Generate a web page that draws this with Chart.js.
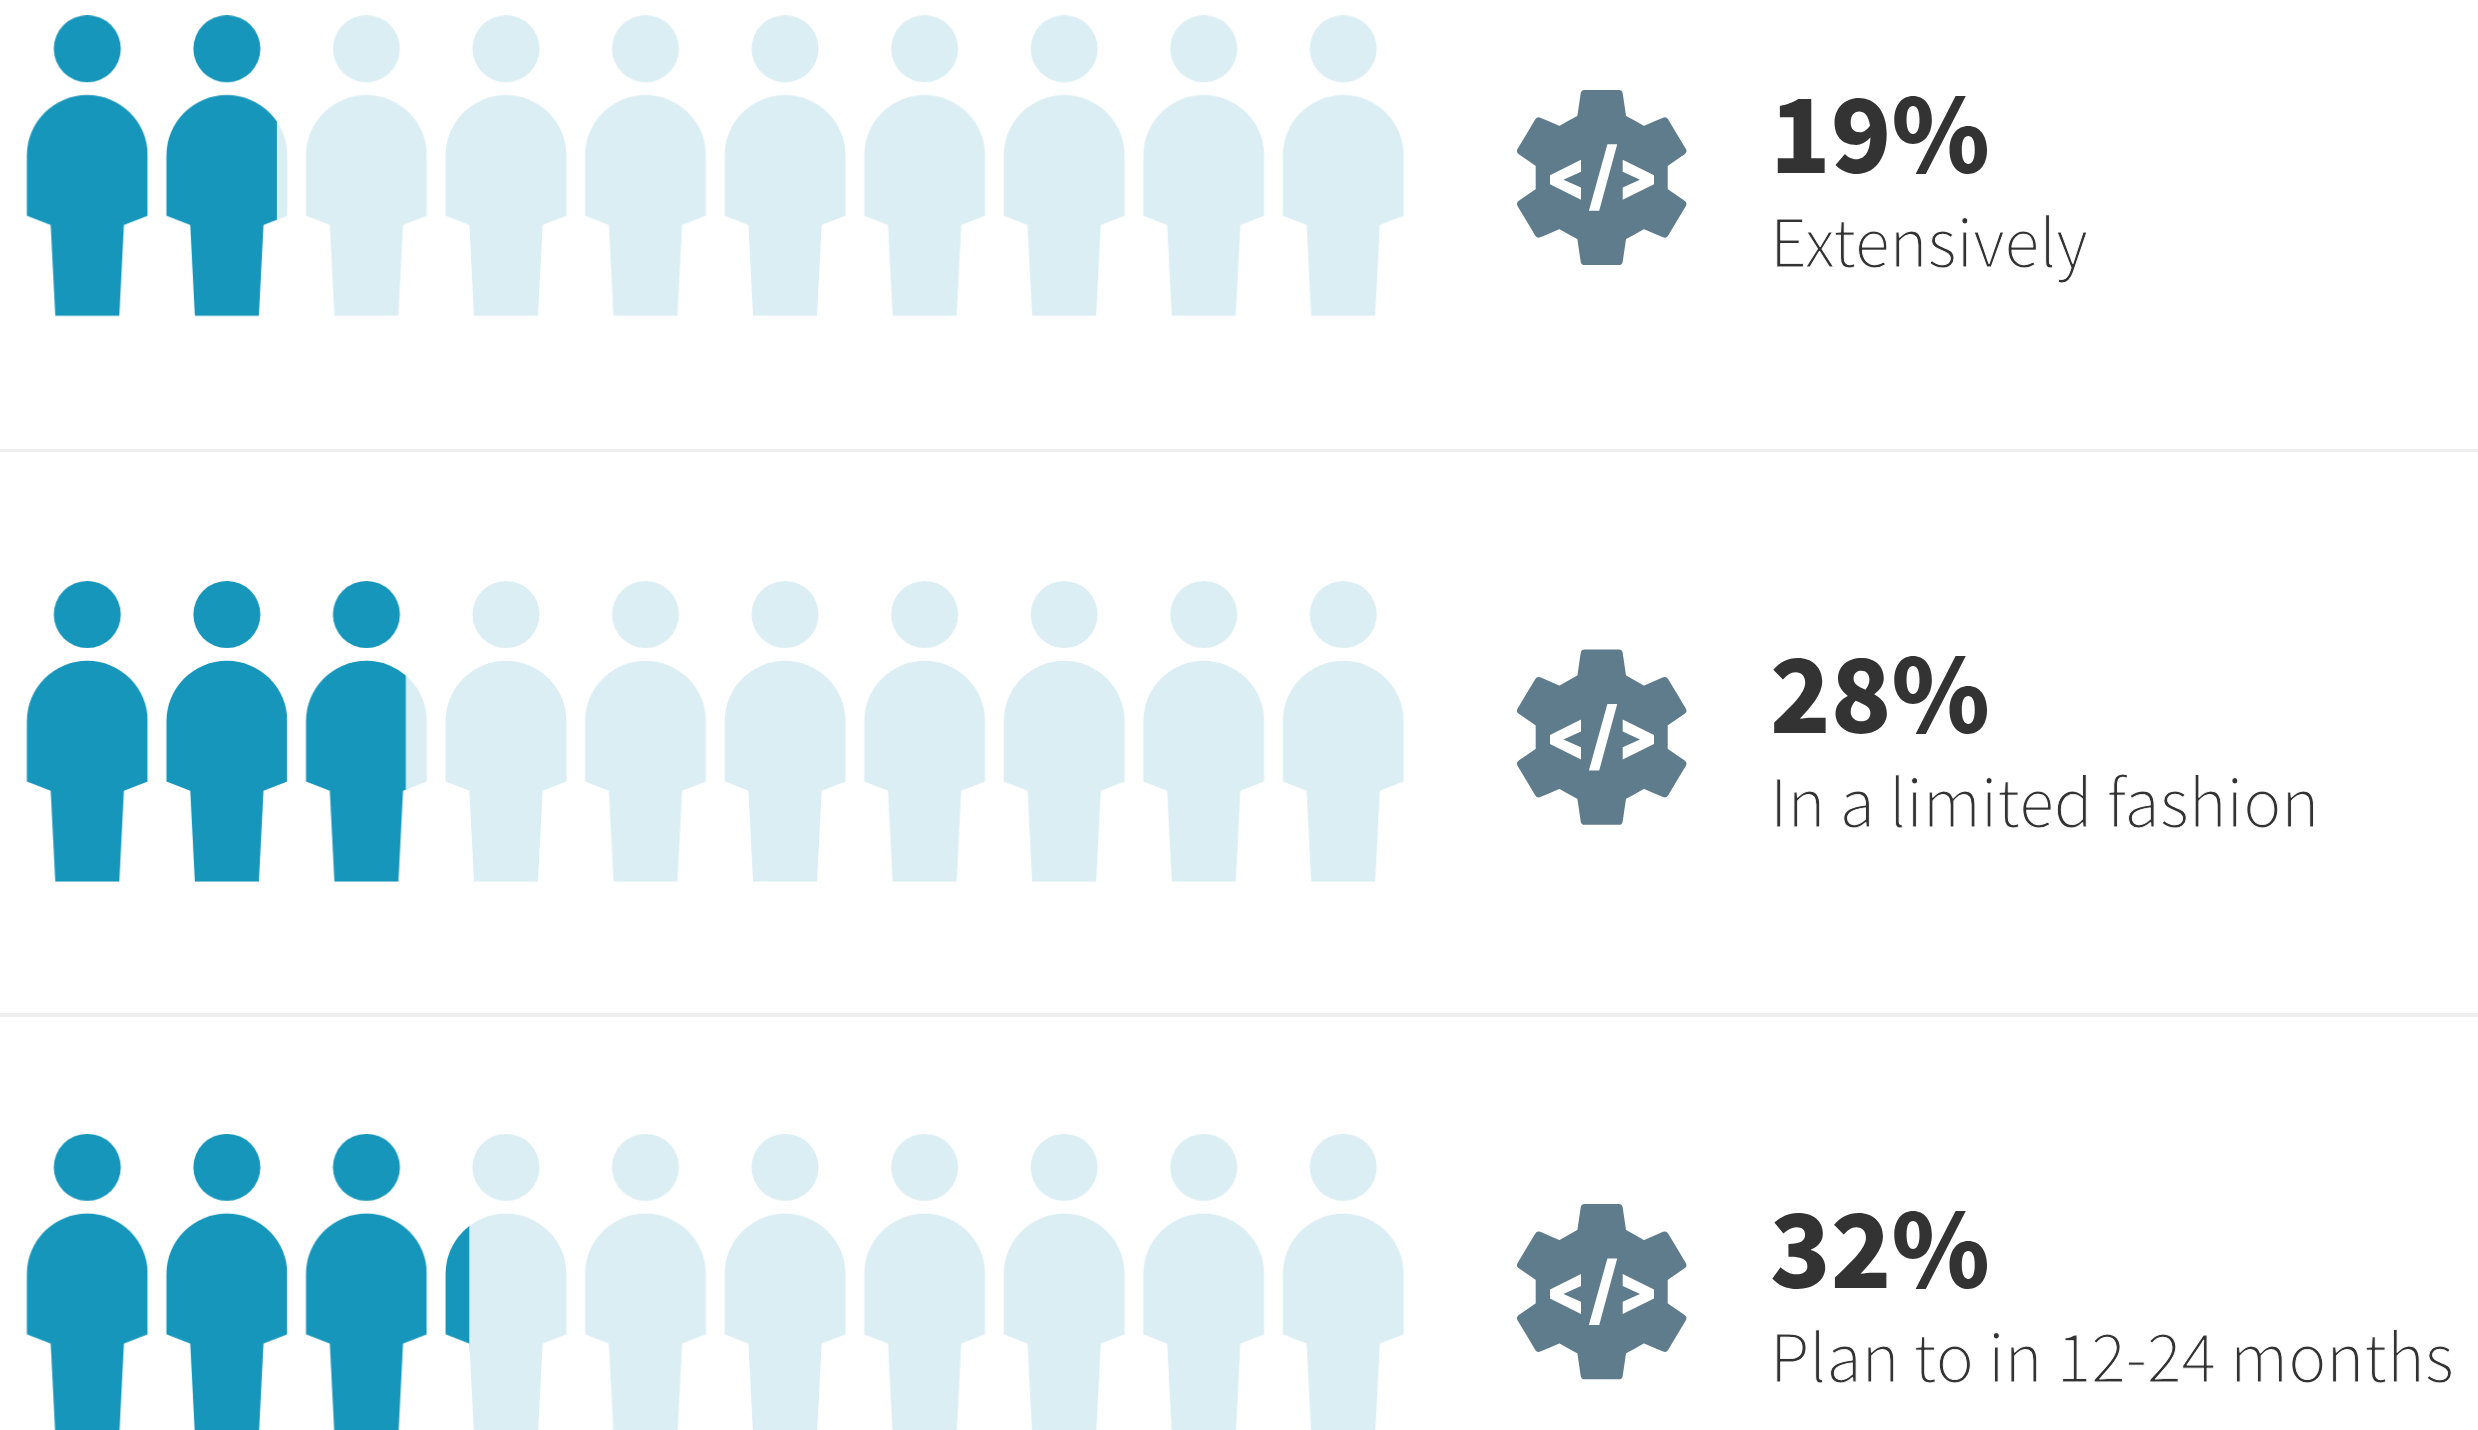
<!DOCTYPE html>
<html><head><meta charset="utf-8">
<style>
html,body{margin:0;padding:0;background:#fff;width:2478px;height:1430px;overflow:hidden}
.row{position:absolute;left:0;width:2478px}
canvas{display:block}
</style>
<script src="https://cdn.jsdelivr.net/npm/chart.js@4"></script>
</head><body>
<div class="row" style="top:0;height:452px"><canvas id="r0" width="2478" height="452"></canvas></div>
<div class="row" style="top:452px;height:565px"><canvas id="r1" width="2478" height="565"></canvas></div>
<div class="row" style="top:1017px;height:413px"><canvas id="r2" width="2478" height="413"></canvas></div>
<script>
// ---- data ----
const percentLabels = ['19%', '28%', '32%'];
const categories = ['Extensively', 'In a limited fashion', 'Plan to in 12-24 months'];
const filledPeople = [1.914, 2.826, 3.196];   // people coloured in, out of ten
const peoplePerRow = [1, 2, 3, 4, 5, 6, 7, 8, 9, 10];

// ---- styles ----
const DARK = '#1696BB', PALE = '#DBEEF4', GEAR = '#5F7C8C', INK = '#333333', RULE = '#EEEEEE';
const W = 2478;
const STEP = 139.55, X0 = 87.3;
const xMin = 1 - X0 / STEP, xMax = 1 + (W - X0) / STEP;

function personPath(c) {
  c.beginPath(); c.arc(65, 33.5, 33.5, 0, 2 * Math.PI);
  c.moveTo(4.6, 140.2);
  c.arc(65, 140.2, 60.4, Math.PI, 0);
  c.lineTo(125.4, 200.5); c.lineTo(101.6, 209.8); c.lineTo(97, 300.5); c.lineTo(33, 300.5);
  c.lineTo(28.4, 209.8); c.lineTo(4.6, 200.5); c.closePath();
}
function glyph(frac) {
  const cv = document.createElement('canvas'); cv.width = 130; cv.height = 302;
  const c = cv.getContext('2d');
  personPath(c); c.fillStyle = PALE; c.fill();
  if (frac > 0) {
    c.save(); c.beginPath(); c.rect(0, 0, 4.6 + 120.8 * frac, 302); c.clip();
    personPath(c); c.fillStyle = DARK; c.fill(); c.restore();
  }
  return cv;
}
function gearPoly(c, cx, cy) {
  const pts = [[-20.5,-87.6],[-24.3,-61.7],[-42.3,-51.7],[-64.6,-61.2],[-86,-25.5],[-66,-11.7],
    [-66,11.7],[-86,25.5],[-64.6,61.2],[-42.3,51.7],[-24.3,61.7],[-20.5,87.6],
    [20.5,87.6],[24.3,61.7],[42.3,51.7],[64.6,61.2],[86,25.5],[66,11.7],
    [66,-11.7],[86,-25.5],[64.6,-61.2],[42.3,-51.7],[24.3,-61.7],[20.5,-87.6]];
  const corner = new Set([0,3,4,7,8,11,12,15,16,19,20,23]);
  c.beginPath();
  const n = pts.length;
  const mid = (a, b) => [(a[0]+b[0])/2, (a[1]+b[1])/2];
  let s = mid(pts[n-1], pts[0]);
  c.moveTo(cx+s[0], cy+s[1]);
  for (let i = 0; i < n; i++) {
    const p = pts[i], q = pts[(i+1)%n], m = mid(p, q);
    c.arcTo(cx+p[0], cy+p[1], cx+m[0], cy+m[1], corner.has(i) ? 4 : 0.5);
    c.lineTo(cx+m[0], cy+m[1]);
  }
  c.closePath(); c.fillStyle = GEAR; c.fill();
  const poly = a => { c.beginPath(); a.forEach((p,i)=> i? c.lineTo(cx+p[0],cy+p[1]) : c.moveTo(cx+p[0],cy+p[1])); c.closePath(); c.fill(); };
  c.fillStyle = '#fff';
  poly([[-20.7,-17.7],[-51.7,-2.3],[-51.7,6.7],[-20.7,22.3],[-20.7,10],[-38.3,2.3],[-20.7,-5.7]]);
  poly([[21,-17.7],[52.3,-2.3],[52.3,6.7],[21,22.3],[21,10],[38.3,2.3],[21,-5.7]]);
  poly([[5.7,-33.3],[15.5,-33.3],[-2.5,33.3],[-12.8,33.3]]);
}

const rows = [
  { id:'r0', top:0,    height:452, headTop:15.2, gearY:177.5, pctBase:172.7, labBase:266.7, rule:449 },
  { id:'r1', top:452,  height:565, headTop:581,  gearY:737.2, pctBase:732.7, labBase:826.7, rule:1013 },
  { id:'r2', top:1017, height:413, headTop:1133.8, gearY:1291.7, pctBase:1287.7, labBase:1381.7, rule:null }
];
const PCT_FONT = '900 102px "Noto Sans CJK SC"', LAB_FONT = '300 66px "Noto Sans CJK SC"';

function drawText(ctx, txt, x, y, font, sx, thin) {
  ctx.save();
  ctx.translate(x, y); ctx.scale(sx, 1);
  ctx.font = font; ctx.fillStyle = INK; ctx.textBaseline = 'alphabetic'; ctx.textAlign = 'left';
  ctx.fillText(txt, 0, 0);
  if (thin) { ctx.strokeStyle = '#fff'; ctx.lineWidth = thin; ctx.lineJoin = 'round'; ctx.strokeText(txt, 0, 0); }
  ctx.restore();
}

rows.forEach((r, idx) => {
  const decor = { id:'decor', afterDraw(chart) {
    const c = chart.ctx; c.save(); c.translate(0, -r.top);
    gearPoly(c, 1601.7, r.gearY);
    drawText(c, percentLabels[idx], 1770, r.pctBase, PCT_FONT, 0.978, 0);
    drawText(c, categories[idx], 1770, r.labBase, LAB_FONT, 0.974, 0.9);
    if (r.rule !== null) { c.fillStyle = RULE; c.fillRect(0, r.rule, W, 4); }
    c.restore();
  }};
  const data = peoplePerRow.map(n => ({ x:n, y:0 }));
  const styles = peoplePerRow.map(n => glyph(Math.max(0, Math.min(1, filledPeople[idx] - (n - 1)))));
  const cy = r.headTop + 151 - r.top;
  new Chart(document.getElementById(r.id), {
    type:'scatter',
    data:{ datasets:[{ label:categories[idx], data, pointStyle:styles, pointRadius:10, showLine:false }] },
    options:{
      responsive:false, animation:false, layout:{ padding:0, autoPadding:false },
      plugins:{ legend:{display:false}, tooltip:{enabled:false} },
      scales:{
        x:{ type:'linear', display:false, min:xMin, max:xMax },
        y:{ type:'linear', display:false, min:-(r.height - cy), max:cy }
      }
    },
    plugins:[decor]
  });
});
</script>
</body></html>
